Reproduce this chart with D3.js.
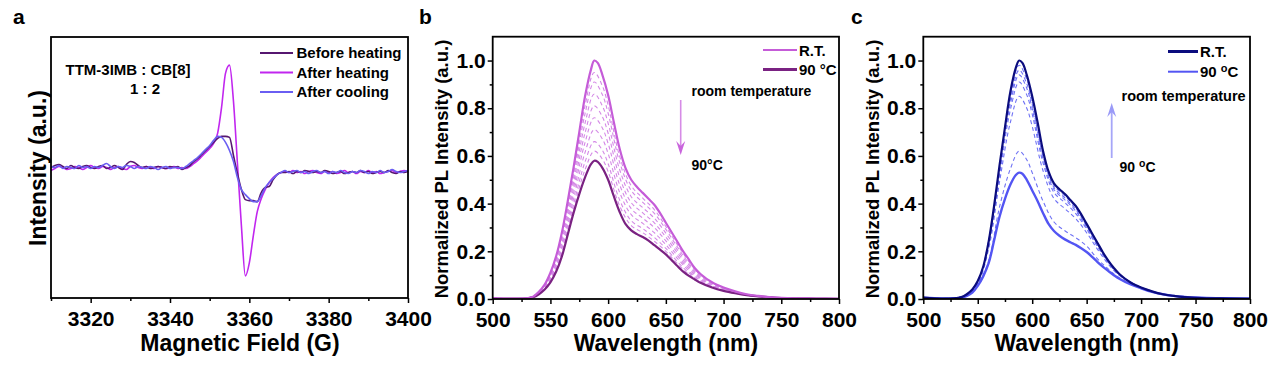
<!DOCTYPE html>
<html><head><meta charset="utf-8">
<script src="https://cdn.jsdelivr.net/npm/d3@7"></script>
<style>body{margin:0;background:#fff;} svg{display:block;font-family:"Liberation Sans",Arial,sans-serif;}</style>
</head><body><svg id="chart" width="1269" height="366"></svg>
<script>
// ---------------- DATA ----------------
// Panel a: EPR spectra (arbitrary intensity units, 1 G steps)
const fieldG = d3.range(3310, 3401, 1);
const eprBefore = [0.00,0.02,0.03,0.01,-0.01,0.02,0.00,-0.01,0.01,0.02,
 0.00,-0.01,0.01,0.02,-0.01,0.00,0.02,0.00,-0.02,0.03,
 0.06,0.05,0.02,0.00,0.01,-0.01,0.00,0.01,0.00,-0.01,
 0.01,0.00,0.01,-0.02,0.00,0.02,0.06,0.09,0.13,0.17,
 0.21,0.25,0.29,0.31,0.31,0.30,0.12,-0.06,-0.22,-0.32,
 -0.33,-0.33,-0.34,-0.25,-0.20,-0.19,-0.12,-0.07,-0.05,-0.05,
 -0.04,-0.06,-0.04,-0.05,-0.03,-0.04,-0.05,-0.04,-0.05,-0.03,
 -0.04,-0.06,-0.05,-0.04,-0.06,-0.05,-0.04,-0.05,-0.03,-0.05,
 -0.04,-0.06,-0.05,-0.04,-0.05,-0.03,-0.05,-0.06,-0.04,-0.05,
 -0.04];
const eprAfterHeat = [-0.03,-0.01,0.01,0.00,-0.02,-0.01,0.01,0.00,-0.02,0.00,
 0.02,0.00,-0.01,0.01,0.00,-0.02,0.00,0.01,-0.01,-0.02,
 0.01,0.02,0.00,-0.01,0.01,0.00,-0.01,0.01,0.00,-0.01,
 0.00,0.01,-0.01,0.00,-0.01,0.01,0.04,0.07,0.11,0.15,
 0.19,0.24,0.34,0.60,0.94,1.02,0.66,0.04,-0.58,-1.08,
 -0.95,-0.68,-0.44,-0.31,-0.22,-0.15,-0.10,-0.07,-0.05,-0.04,
 -0.05,-0.03,-0.05,-0.04,-0.06,-0.04,-0.03,-0.05,-0.06,-0.04,
 -0.05,-0.04,-0.06,-0.05,-0.03,-0.05,-0.04,-0.06,-0.04,-0.05,
 -0.03,-0.05,-0.04,-0.06,-0.05,-0.04,-0.03,-0.05,-0.04,-0.03,
 -0.04];
const eprAfterCool = [0.01,0.00,0.02,-0.01,0.01,0.00,-0.01,0.02,0.00,0.01,
 -0.01,0.01,0.00,0.02,0.04,0.01,-0.01,0.01,0.00,0.02,
 0.01,-0.01,0.01,0.00,-0.01,0.01,0.00,-0.02,0.00,0.01,
 -0.01,0.00,0.00,-0.01,0.01,0.04,0.07,0.10,0.14,0.18,
 0.22,0.27,0.31,0.30,0.25,0.17,0.06,-0.10,-0.22,-0.27,
 -0.31,-0.34,-0.34,-0.28,-0.20,-0.15,-0.11,-0.07,-0.05,-0.03,
 -0.05,-0.04,-0.03,-0.05,-0.04,-0.06,-0.04,-0.03,-0.05,-0.04,
 -0.06,-0.04,-0.05,-0.03,-0.05,-0.06,-0.04,-0.05,-0.03,-0.04,
 -0.06,-0.04,-0.05,-0.03,-0.05,-0.04,-0.02,-0.04,-0.05,-0.04,
 -0.03];
const eprLabels = ["Before heating", "After heating", "After cooling"];
const eprTicks = [3320, 3340, 3360, 3380, 3400];
const eprMinorTicks = [3310, 3330, 3350, 3370, 3390];

// Panels b, c: normalized PL spectra
const wl = [500,510,520,530,535,540,545,550,555,560,565,570,575,580,585,588,591,595,600,605,
 610,615,620,625,630,635,640,645,650,655,660,665,670,675,680,690,700,710,720,730,740,750,760,780,800];
const plB_RT = [.004,.002,.002,.004,.01,.03,.06,.11,.18,.28,.41,.55,.70,.85,.96,1.0,.99,.94,.855,.74,
 .63,.55,.50,.47,.445,.42,.395,.36,.32,.28,.24,.20,.165,.13,.105,.07,.048,.032,.02,.013,.008,.005,.003,.002,.001];
const plB_90 = [.003,.002,.002,.003,.007,.02,.04,.07,.115,.18,.27,.36,.44,.51,.565,.58,.575,.55,.50,.43,
 .365,.315,.288,.272,.26,.245,.226,.207,.187,.163,.138,.115,.097,.082,.068,.048,.034,.024,.016,.011,.007,.004,.003,.002,.001];
const plC_RT = [.006,.003,.002,.004,.008,.02,.04,.075,.135,.24,.39,.56,.72,.87,.97,1.0,.99,.94,.85,.74,
 .62,.535,.485,.46,.44,.415,.39,.355,.315,.275,.235,.195,.16,.13,.105,.07,.048,.032,.02,.013,.008,.005,.003,.002,.001];
const plC_90 = [.005,.003,.002,.003,.006,.013,.027,.055,.095,.15,.245,.345,.42,.48,.52,.53,.525,.50,.455,.41,
 .36,.315,.285,.265,.25,.238,.227,.213,.197,.177,.155,.135,.117,.10,.085,.062,.045,.03,.02,.013,.009,.006,.004,.003,.002];
// intermediate temperatures (dashed)
const wlMid = [500,530,540,550,560,570,580,588,595,600,610,620,630,640,650,660,670,680,700,720,750,800];
const plB_mid = [
 [.004,.004,.029,.105,.268,.527,.81,.95,.894,.813,.598,.475,.423,.375,.304,.228,.157,.101,.046,.02,.005,.001],
 [.004,.004,.028,.101,.259,.509,.777,.91,.857,.779,.573,.455,.405,.359,.292,.218,.150,.097,.045,.019,.005,.001],
 [.004,.004,.027,.097,.247,.487,.737,.86,.81,.737,.542,.429,.383,.339,.276,.206,.142,.093,.043,.019,.005,.001],
 [.004,.004,.025,.092,.235,.464,.696,.81,.764,.695,.51,.404,.361,.319,.26,.194,.134,.088,.042,.018,.004,.001],
 [.004,.004,.024,.087,.223,.442,.656,.76,.717,.652,.479,.379,.339,.299,.244,.182,.126,.084,.040,.018,.004,.001],
 [.003,.003,.023,.082,.211,.419,.615,.71,.671,.61,.447,.354,.317,.278,.228,.17,.118,.079,.038,.017,.004,.001],
 [.003,.003,.022,.078,.199,.396,.575,.66,.624,.567,.415,.328,.295,.258,.212,.157,.11,.075,.037,.016,.004,.001],
 [.003,.003,.021,.074,.19,.378,.542,.62,.587,.534,.39,.308,.278,.242,.2,.148,.103,.072,.035,.016,.004,.001]];
const plC_mid = [
 [.005,.004,.020,.069,.245,.551,.853,.98,.921,.833,.609,.476,.432,.383,.31,.231,.158,.104,.048,.02,.005,.001],
 [.005,.004,.019,.068,.239,.542,.836,.96,.903,.816,.598,.468,.424,.376,.305,.228,.156,.103,.048,.02,.005,.001],
 [.005,.004,.019,.067,.234,.532,.819,.94,.884,.799,.587,.459,.416,.369,.30,.224,.154,.102,.048,.02,.005,.001],
 [.005,.004,.019,.066,.226,.519,.794,.91,.856,.775,.57,.447,.404,.358,.293,.219,.151,.101,.047,.02,.005,.001],
 [.005,.004,.018,.064,.21,.491,.742,.85,.80,.724,.537,.421,.379,.337,.278,.208,.146,.099,.047,.02,.005,.002],
 [.005,.004,.014,.058,.16,.386,.546,.62,.584,.53,.41,.323,.286,.257,.222,.168,.125,.089,.046,.02,.006,.002]];
const plTicks = [500,550,600,650,700,750,800];
const plMinorTicks = [525,575,625,675,725,775];
const plYTicks = [0,0.2,0.4,0.6,0.8,1.0];
const plYMinorTicks = [0.1,0.3,0.5,0.7,0.9];
const plLegend = ["R.T.", "90 °C"];

// ---------------- DRAW ----------------
const svg = d3.select("#chart");
const TICKFONT = 21;

function styleAxis(g, size) {
  g.select(".domain").remove();
  g.selectAll("line").attr("stroke", "#000").attr("stroke-width", 1.5);
  g.selectAll("text").attr("font-size", size).attr("font-weight", "bold")
    .attr("fill", "#000").attr("font-family", "'Liberation Sans',Arial,sans-serif");
}
function frame(x0, x1, y0, y1) {
  svg.append("rect").attr("x", x0).attr("y", y0).attr("width", x1 - x0).attr("height", y1 - y0)
    .attr("fill", "none").attr("stroke", "#000").attr("stroke-width", 1.8);
}
function clip(id, x0, x1, y0, y1) {
  svg.append("clipPath").attr("id", id).append("rect")
    .attr("x", x0).attr("y", y0).attr("width", x1 - x0).attr("height", y1 - y0);
}
function txt(x, y, s, size, opts = {}) {
  return svg.append("text").attr("x", x).attr("y", y).attr("font-size", size)
    .attr("font-weight", opts.weight || "bold").attr("fill", opts.fill || "#000")
    .attr("text-anchor", opts.anchor || "start").text(s);
}

// ===== Panel a =====
{
  const x0 = 51, x1 = 408, y0 = 37, y1 = 298;
  const x = d3.scaleLinear().domain([3310, 3400]).range([x0, x1]);
  const y = d3.scaleLinear().domain([-1.3, 1.3]).range([y1, y0]);
  clip("clipA", x0, x1, y0, y1);
  const series = [
    {v: eprBefore, c: "#561770"},
    {v: eprAfterCool, c: "#6a5ef2"},
    {v: eprAfterHeat, c: "#c126ef"}
  ];
  const line = d3.line().x((d, i) => x(fieldG[i])).y(d => y(d)).curve(d3.curveMonotoneX);
  const order = [series[2], series[0], series[1]];
  order.forEach(s => svg.append("path").attr("clip-path", "url(#clipA)").attr("d", line(s.v))
    .attr("fill", "none").attr("stroke", s.c).attr("stroke-width", 1.6).attr("stroke-linejoin", "round"));
  frame(x0, x1, y0, y1);
  svg.append("g").attr("transform", `translate(0,${y1})`)
    .call(d3.axisBottom(x).tickValues(eprTicks).tickSize(5).tickPadding(8).tickFormat(d3.format("d")))
    .call(g => styleAxis(g, TICKFONT));
  svg.append("g").attr("transform", `translate(0,${y1})`)
    .call(d3.axisBottom(x).tickValues(eprMinorTicks).tickSize(3).tickFormat(""))
    .call(g => styleAxis(g, TICKFONT));
  txt(240, 351, "Magnetic Field (G)", 23, {anchor: "middle"});
  txt(0, 0, "Intensity (a.u.)", 23, {anchor: "middle"})
    .attr("transform", "translate(46,168) rotate(-90)");
  const legCols = ["#561770", "#c126ef", "#6a5ef2"];
  eprLabels.forEach((l, i) => {
    const yy = 53 + i * 19.5;
    svg.append("line").attr("x1", 260).attr("x2", 293).attr("y1", yy).attr("y2", yy)
      .attr("stroke", legCols[i]).attr("stroke-width", 1.8);
    txt(296.5, yy + 5.3, l, 15);
  });
  txt(65.5, 74.5, "TTM-3IMB : CB[8]", 15);
  txt(145, 93.5, "1 : 2", 15, {anchor: "middle"});
  txt(13, 24, "a", 21);
}

// ===== PL panel builder =====
function plPanel(o) {
  const {x0, x1, y0, y1} = o;
  const x = d3.scaleLinear().domain([500, 800]).range([x0, x1]);
  const y = d3.scaleLinear().domain([0, 1.1]).range([y1, y0]);
  clip(o.id, x0, x1, y0, y1);
  const lineFull = d3.line().x((d, i) => x(wl[i])).y(d => y(d)).curve(d3.curveCatmullRom.alpha(0.5));
  const lineMid = d3.line().x((d, i) => x(wlMid[i])).y(d => y(d)).curve(d3.curveCatmullRom.alpha(0.5));
  o.mid.forEach(m => svg.append("path").attr("clip-path", `url(#${o.id})`).attr("d", lineMid(m))
    .attr("fill", "none").attr("stroke", o.midColor).attr("stroke-width", 1.1)
    .attr("stroke-dasharray", "4,3"));
  svg.append("path").attr("clip-path", `url(#${o.id})`).attr("d", lineFull(o.hot))
    .attr("fill", "none").attr("stroke", o.hotColor).attr("stroke-width", o.hotW);
  svg.append("path").attr("clip-path", `url(#${o.id})`).attr("d", lineFull(o.rt))
    .attr("fill", "none").attr("stroke", o.rtColor).attr("stroke-width", o.rtW);
  frame(x0, x1, y0, y1);
  svg.append("g").attr("transform", `translate(0,${y1})`)
    .call(d3.axisBottom(x).tickValues(plTicks).tickSize(5).tickPadding(8).tickFormat(d3.format("d")))
    .call(g => styleAxis(g, TICKFONT));
  svg.append("g").attr("transform", `translate(0,${y1})`)
    .call(d3.axisBottom(x).tickValues(plMinorTicks).tickSize(3).tickFormat(""))
    .call(g => styleAxis(g, TICKFONT));
  svg.append("g").attr("transform", `translate(${x0},0)`)
    .call(d3.axisLeft(y).tickValues(plYTicks).tickSize(5).tickPadding(2).tickFormat(d3.format(".1f")))
    .call(g => styleAxis(g, TICKFONT));
  svg.append("g").attr("transform", `translate(${x0},0)`)
    .call(d3.axisLeft(y).tickValues(plYMinorTicks).tickSize(3).tickFormat(""))
    .call(g => styleAxis(g, TICKFONT));
  txt((x0 + x1) / 2, 351, "Wavelength (nm)", 23, {anchor: "middle"});
  txt(0, 0, "Normalized PL Intensity (a.u.)", 18.5, {anchor: "middle"})
    .attr("transform", `translate(${o.ytX},169) rotate(-90)`);
  txt(o.letterX, 24, o.letter, 21);
  return {x, y};
}

// ===== Panel b =====
plPanel({id: "clipB", x0: 492.7, x1: 839, y0: 36.7, y1: 299, rt: plB_RT, hot: plB_90, mid: plB_mid,
  rtColor: "#c55cd8", hotColor: "#7a2282", midColor: "#d489e6", rtW: 2.2, hotW: 2.2,
  ytX: 448, letter: "b", letterX: 419});
{
  svg.append("line").attr("x1", 763).attr("x2", 797).attr("y1", 50).attr("y2", 50)
    .attr("stroke", "#c55cd8").attr("stroke-width", 2);
  svg.append("line").attr("x1", 763).attr("x2", 797).attr("y1", 69.5).attr("y2", 69.5)
    .attr("stroke", "#7a2282").attr("stroke-width", 3);
  txt(799, 55.5, plLegend[0], 15);
  const t = txt(799, 75, "90 ", 15); t.append("tspan").text("°C");
  txt(691.5, 96, "room temperature", 14);
  svg.append("line").attr("x1", 680.7).attr("x2", 680.7).attr("y1", 100).attr("y2", 148)
    .attr("stroke", "#d68be6").attr("stroke-width", 1.6);
  svg.append("path").attr("d", "M676.2,141 L680.7,155 L685.2,141 L680.7,146 Z").attr("fill", "#c965dc");
  const t2 = txt(691.5, 170, "90", 14); t2.append("tspan").text("°C");
}

// ===== Panel c =====
plPanel({id: "clipC", x0: 923.3, x1: 1250, y0: 36.7, y1: 299, rt: plC_RT, hot: plC_90, mid: plC_mid,
  rtColor: "#0b0c7e", hotColor: "#5355f3", midColor: "#6f72f4", rtW: 2.2, hotW: 2.4,
  ytX: 879, letter: "c", letterX: 851});
{
  svg.append("line").attr("x1", 1168).attr("x2", 1198).attr("y1", 51.5).attr("y2", 51.5)
    .attr("stroke", "#0b0c7e").attr("stroke-width", 3);
  svg.append("line").attr("x1", 1168).attr("x2", 1198).attr("y1", 71.7).attr("y2", 71.7)
    .attr("stroke", "#5355f3").attr("stroke-width", 2);
  txt(1200, 57, plLegend[0], 15);
  const t = txt(1200, 77, "90 ", 15);
  t.append("tspan").attr("dy", -5).attr("font-size", 11).text("o");
  t.append("tspan").attr("dy", 5).text("C");
  txt(1121.5, 101, "room temperature", 14.5);
  svg.append("line").attr("x1", 1111.7).attr("x2", 1111.7).attr("y1", 158).attr("y2", 110)
    .attr("stroke", "#a6a6f8").attr("stroke-width", 1.8);
  svg.append("path").attr("d", "M1107.2,117 L1111.7,103 L1116.2,117 L1111.7,112 Z").attr("fill", "#9a9af7");
  const t2 = txt(1119.5, 172, "90 ", 14);
  t2.append("tspan").attr("dy", -5).attr("font-size", 10.5).text("o");
  t2.append("tspan").attr("dy", 5).text("C");
}
</script></body></html>
